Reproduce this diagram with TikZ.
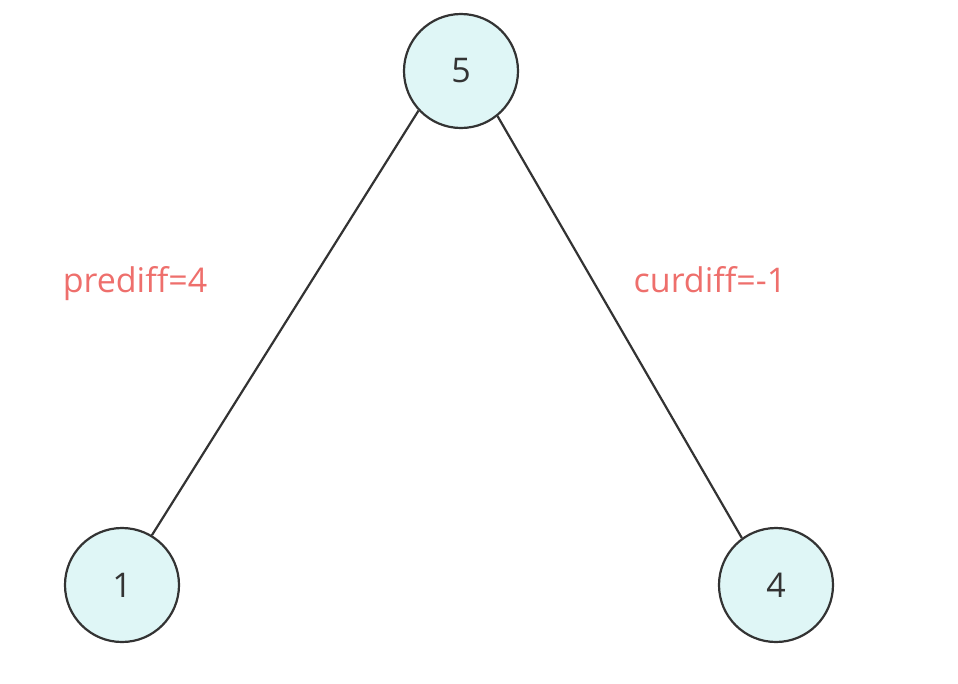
\documentclass[tikz,border=0pt]{standalone}
\usepackage{fontspec}
\setmainfont{Open Sans}
\definecolor{nodefill}{HTML}{DFF6F6}
\definecolor{edgecol}{HTML}{333333}
\definecolor{labelcol}{HTML}{EE6F6C}
\begin{document}
\begin{tikzpicture}[x=1pt,y=-1pt,
  treenode/.style={circle,draw=edgecol,fill=nodefill,line width=2.2pt,minimum size=114pt,inner sep=0pt,font=\fontsize{34}{40}\selectfont,text=edgecol},
  edge/.style={draw=edgecol,line width=2.2pt},
  difflabel/.style={text=labelcol,font=\fontsize{34}{40}\selectfont,inner sep=0pt,anchor=base}]
\useasboundingbox (0,0) rectangle (958,683);
\node[treenode] (n5) at (461,71) {5};
\node[treenode] (n1) at (122,585) {1};
\node[treenode] (n4) at (776,585) {4};
\draw[edge] (n5.223) -- (n1.59);
\draw[edge] (n5.309) -- (n4.126);
\node[difflabel] (pre) at (135,292) {prediff=4};
\node[difflabel] (cur) at (710,292) {curdiff=-1};
\end{tikzpicture}
\end{document}
